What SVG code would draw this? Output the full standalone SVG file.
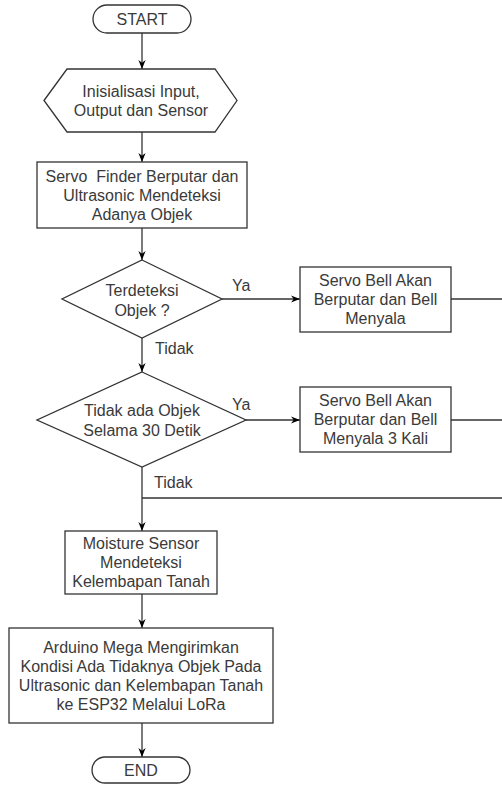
<svg xmlns="http://www.w3.org/2000/svg" width="502" height="785" viewBox="0 0 502 785">
<style>
.s{fill:#fff;stroke:#333;stroke-width:1.3}
.c{fill:none;stroke:#333;stroke-width:1.3}
text{font-family:"Liberation Sans",Arial,sans-serif;font-size:16px;fill:#3a3a3a}
.m{text-anchor:middle}
.pre{white-space:pre}
</style>
<defs>
<marker id="ah" markerUnits="userSpaceOnUse" viewBox="0 0 10 10" refX="10" refY="5" markerWidth="9" markerHeight="9" orient="auto">
<path d="M0,1 L10,5 L0,9 L3,5 Z" fill="#000"/>
</marker>
</defs>
<rect width="502" height="785" fill="#fff"/>
<g id="connectors">
<path class="c" d="M142,33 V69" marker-end="url(#ah)"/>
<path class="c" d="M142,132 V162" marker-end="url(#ah)"/>
<path class="c" d="M142,228 V260" marker-end="url(#ah)"/>
<path class="c" d="M222,299 H300" marker-end="url(#ah)"/>
<path class="c" d="M142,338 V372" marker-end="url(#ah)"/>
<path class="c" d="M246,420 H300" marker-end="url(#ah)"/>
<path class="c" d="M142,467 V531" marker-end="url(#ah)"/>
<path class="c" d="M142,594 V628" marker-end="url(#ah)"/>
<path class="c" d="M142,723 V757" marker-end="url(#ah)"/>
<path class="c" d="M451,299 H502"/>
<path class="c" d="M451,420 H502"/>
<path class="c" d="M502,498 H142"/>
<text x="232" y="291">Ya</text>
<text x="155" y="354">Tidak</text>
<text x="232" y="410">Ya</text>
<text x="154" y="488">Tidak</text>
</g>
<g id="start">
<rect class="s" x="93" y="5" width="98" height="28" rx="14"/>
<text class="m" x="142" y="24.7">START</text>
</g>
<g id="init">
<path class="s" d="M44,100.5 L67,69 L215,69 L237,100.5 L215,132 L67,132 Z"/>
<text class="m" x="141" y="96.7">Inisialisasi Input,</text>
<text class="m" x="141" y="116.2">Output dan Sensor</text>
</g>
<g id="servo-finder">
<rect class="s" x="37" y="162" width="210" height="66"/>
<text class="m pre" x="142" y="181.7" xml:space="preserve">Servo  Finder Berputar dan</text>
<text class="m" x="142" y="200.7">Ultrasonic Mendeteksi</text>
<text class="m" x="142" y="219.7">Adanya Objek</text>
</g>
<g id="decision1">
<path class="s" d="M142,260 L222,299 L142,338 L62,299 Z"/>
<text class="m" x="142" y="296">Terdeteksi</text>
<text class="m" x="142" y="315.5">Objek ?</text>
</g>
<g id="bell1">
<rect class="s" x="300" y="267" width="151" height="65"/>
<text class="m" x="375.5" y="286.2">Servo Bell Akan</text>
<text class="m" x="375.5" y="305.2">Berputar dan Bell</text>
<text class="m" x="375.5" y="324.2">Menyala</text>
</g>
<g id="decision2">
<path class="s" d="M142,372 L246,420 L142,467 L37,420 Z"/>
<text class="m" x="142" y="416.2">Tidak ada Objek</text>
<text class="m" x="142" y="435.7">Selama 30 Detik</text>
</g>
<g id="bell2">
<rect class="s" x="300" y="387" width="151" height="65"/>
<text class="m" x="375.5" y="406.2">Servo Bell Akan</text>
<text class="m" x="375.5" y="425.2">Berputar dan Bell</text>
<text class="m" x="375.5" y="444.2">Menyala 3 Kali</text>
</g>
<g id="moisture">
<rect class="s" x="65" y="531" width="152" height="63"/>
<text class="m" x="141" y="549.2">Moisture Sensor</text>
<text class="m" x="141" y="568.2">Mendeteksi</text>
<text class="m" x="141" y="587.2">Kelembapan Tanah</text>
</g>
<g id="arduino">
<rect class="s" x="9" y="628" width="264" height="95"/>
<text class="m" x="141" y="652.7">Arduino Mega Mengirimkan</text>
<text class="m" x="141" y="671.7">Kondisi Ada Tidaknya Objek Pada</text>
<text class="m" x="141" y="690.7">Ultrasonic dan Kelembapan Tanah</text>
<text class="m" x="141" y="709.7">ke ESP32 Melalui LoRa</text>
</g>
<g id="end">
<rect class="s" x="92" y="757" width="98" height="26" rx="13"/>
<text class="m" x="141" y="775.7">END</text>
</g>
</svg>
